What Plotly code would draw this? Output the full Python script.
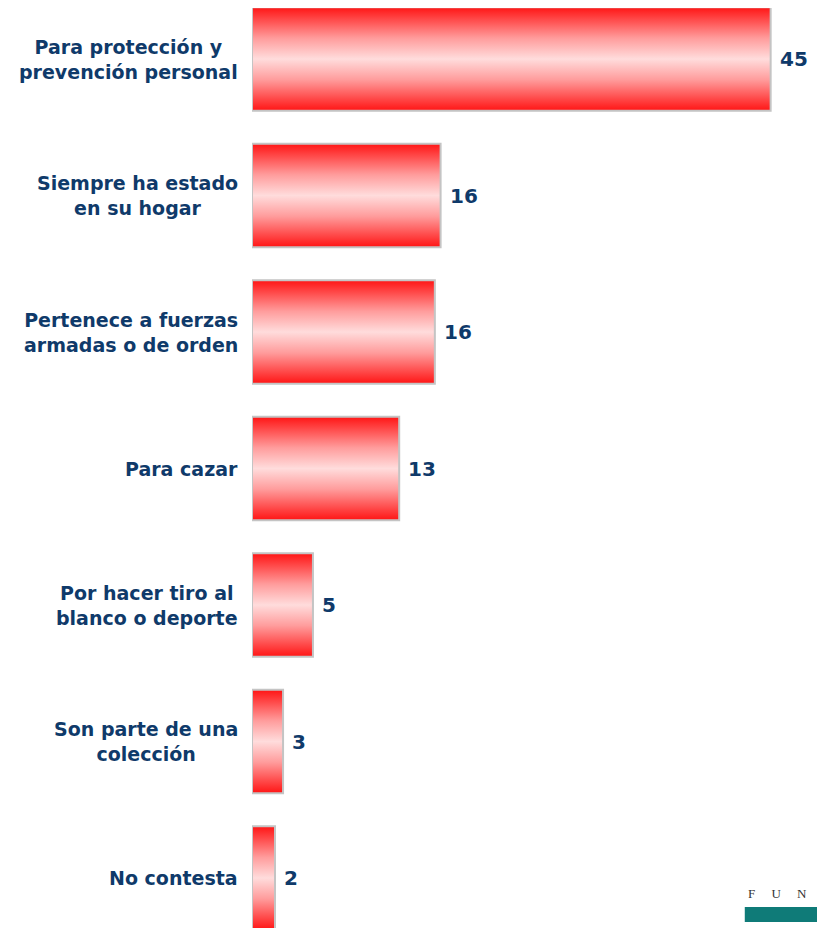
import plotly.graph_objects as go

# categorias y valores (porcentaje)
categorias = [
    "Para protección y<br>prevención personal",
    "Siempre ha estado<br>en su hogar",
    "Pertenece a fuerzas<br>armadas o de orden",
    "Para cazar",
    "Por hacer tiro al<br>blanco o deporte",
    "Son parte de una<br>colección",
    "No contesta",
]
valores = [45.1, 16.4, 15.9, 12.8, 5.3, 2.7, 2.0]
etiquetas = ["45", "16", "16", "13", "5", "3", "2"]

AZUL = "#0f3a6a"
FUENTE = "DejaVu Sans"
ANCHO = 0.38  # media altura de barra (en unidades de categoria)

gradiente = [
    [0.0, "#ff1414"], [0.12, "#ff4a4a"], [0.3, "#ff9c9c"],
    [0.5, "#ffdcdc"], [0.7, "#ff9c9c"], [0.88, "#ff4a4a"], [1.0, "#ff1414"],
]

fig = go.Figure()

for i, v in enumerate(valores):
    # barra con degradado vertical (rojo - rosa - rojo)
    fig.add_trace(go.Scatter(
        x=[0, v, v, 0, 0],
        y=[i - ANCHO, i - ANCHO, i + ANCHO, i + ANCHO, i - ANCHO],
        mode="lines", fill="toself",
        fillgradient=dict(type="vertical", colorscale=gradiente),
        line=dict(color="#c4c4c4", width=2),
        hoverinfo="skip", showlegend=False,
    ))
    fig.add_annotation(
        x=v, y=i, xref="x", yref="y", text=etiquetas[i], showarrow=False,
        xanchor="left", yanchor="middle", xshift=7,
        font=dict(family=FUENTE, size=20, color=AZUL, weight="bold"),
    )
    fig.add_annotation(
        x=0, y=i, xref="paper", yref="y", text=categorias[i], showarrow=False,
        xanchor="right", yanchor="middle", xshift=-12, align="center",
        font=dict(family=FUENTE, size=19, color=AZUL, weight="bold"),
    )

# logo recortado abajo a la derecha
sep = "&nbsp;" * 5
fig.add_annotation(
    x=0.862, y=0.027, xref="paper", yref="paper", text=sep.join("FUN"),
    showarrow=False, xanchor="left", yanchor="bottom",
    font=dict(family="Liberation Serif", size=13, color="#333333"),
)
fig.add_shape(type="rect", xref="paper", yref="paper",
              x0=0.86, x1=1.05, y0=0.0065, y1=0.0228,
              fillcolor="#0f7b78", line=dict(width=0))

fig.update_xaxes(range=[0, 573 / 11.5], visible=False)
fig.update_yaxes(range=[(920 - 51) / 136.5, -51 / 136.5], visible=False)
fig.update_layout(
    width=817, height=920,
    margin=dict(l=244, r=0, t=0, b=0),
    plot_bgcolor="white", paper_bgcolor="white",
)

fig.write_html("out.html")
